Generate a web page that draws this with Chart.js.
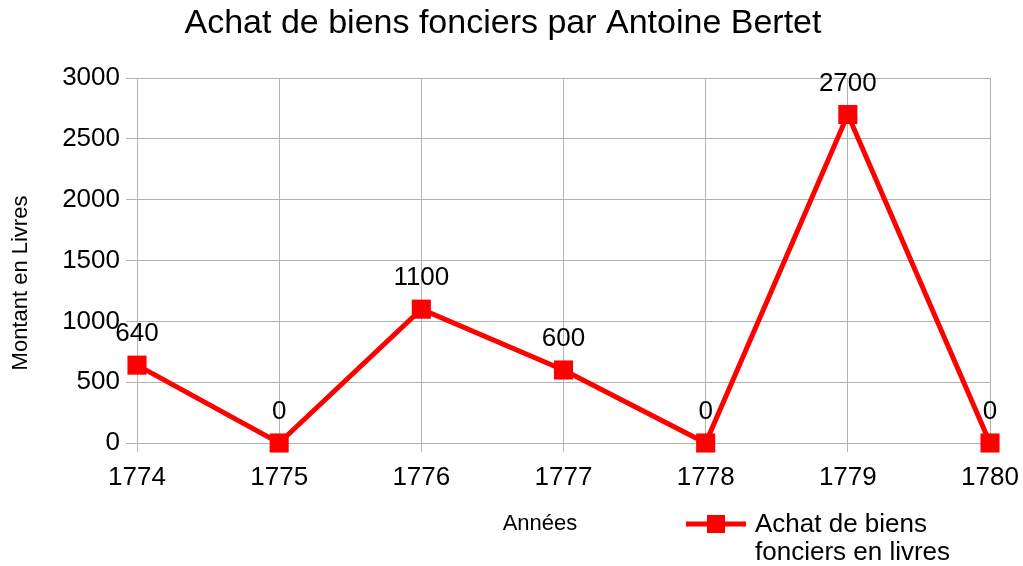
<!DOCTYPE html>
<html>
<head>
<meta charset="utf-8">
<script src="https://cdn.jsdelivr.net/npm/chart.js@4"></script>
<style>
  html, body { margin: 0; padding: 0; background: #fff; }
  #wrap { width: 1023px; height: 566px; }
</style>
</head>
<body>
<div id="wrap"><canvas id="chart" width="1023" height="566"></canvas></div>
<script>
const years = ['1774', '1775', '1776', '1777', '1778', '1779', '1780'];
const amounts = [640, 0, 1100, 600, 0, 2700, 0];
const yTicks = [0, 500, 1000, 1500, 2000, 2500, 3000];

const chartTitle = 'Achat de biens fonciers par Antoine Bertet';
const seriesLabel = ['Achat de biens', 'fonciers en livres'];
const xTitle = 'Années';
const yTitle = 'Montant en Livres';

const FONT = '"Liberation Sans", Arial, sans-serif';
const RED = '#ff0000';
const GRID = '#b3b3b3';

// title, value labels, axis titles and legend drawn by hand
const extras = {
  id: 'extras',
  afterDatasetsDraw(chart) {
    const ctx = chart.ctx;
    ctx.save();
    ctx.fillStyle = '#000';
    ctx.textAlign = 'center';
    ctx.textBaseline = 'middle';

    ctx.font = '34px ' + FONT;
    ctx.fillText(chartTitle, 503, 24);

    ctx.font = '26px ' + FONT;
    const meta = chart.getDatasetMeta(0);
    meta.data.forEach((pt, i) => {
      ctx.fillText(String(amounts[i]), pt.x, pt.y - 31);
    });

    ctx.font = '22px ' + FONT;
    ctx.fillText(xTitle, 540, 524);

    ctx.save();
    ctx.translate(21, 283);
    ctx.rotate(-Math.PI / 2);
    ctx.fillText(yTitle, 0, 0);
    ctx.restore();

    // legend
    ctx.strokeStyle = RED;
    ctx.lineWidth = 5;
    ctx.beginPath();
    ctx.moveTo(686, 524);
    ctx.lineTo(746, 524);
    ctx.stroke();
    ctx.fillStyle = RED;
    ctx.fillRect(707, 515, 18, 18);

    ctx.fillStyle = '#000';
    ctx.textAlign = 'left';
    ctx.font = '26px ' + FONT;
    ctx.fillText(seriesLabel[0], 755, 525);
    ctx.fillText(seriesLabel[1], 755, 553);
    ctx.restore();
  }
};

new Chart(document.getElementById('chart'), {
  type: 'line',
  data: {
    labels: years,
    datasets: [{
      label: seriesLabel.join(' '),
      data: amounts,
      borderColor: RED,
      backgroundColor: RED,
      borderWidth: 5,
      pointStyle: 'rect',
      pointRadius: 13.5,
      pointHoverRadius: 13.5,
      pointBorderWidth: 0,
      tension: 0,
      clip: false,
    }]
  },
  options: {
    responsive: false,
    animation: false,
    events: [],
    layout: { padding: { left: 0, right: 33, top: 78, bottom: 63 } },
    plugins: {
      legend: { display: false },
      title: { display: false },
      tooltip: { enabled: false },
    },
    scales: {
      x: {
        offset: false,
        afterFit(scale) {
          scale.height = 60;
          scale.paddingLeft = 0;
          scale.paddingRight = 0;
        },
        grid: { color: GRID, tickLength: 9, drawTicks: true },
        border: { color: GRID },
        ticks: { color: '#000', font: { family: FONT, size: 26 }, padding: 10, maxRotation: 0 },
      },
      y: {
        min: 0,
        max: 3000,
        afterFit(scale) {
          scale.width = 137;
          scale.paddingTop = 0;
          scale.paddingBottom = 0;
        },
        afterBuildTicks(scale) { scale.ticks = yTicks.map(v => ({ value: v })); },
        grid: { color: GRID, tickLength: 11 },
        border: { color: GRID },
        ticks: {
          color: '#000',
          font: { family: FONT, size: 26 },
          padding: 6,
          callback: (v) => String(v),
        },
      }
    }
  },
  plugins: [extras]
});
</script>
</body>
</html>
